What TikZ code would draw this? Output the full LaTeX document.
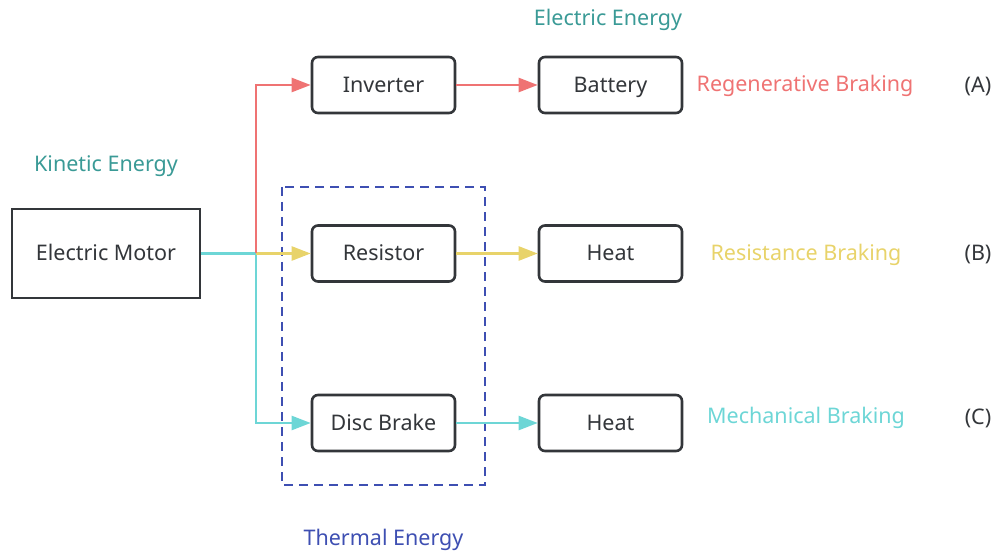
\documentclass[tikz,border=0pt]{standalone}
\usepackage{fontspec}
\setmainfont{Noto Sans}
\usetikzlibrary{arrows.meta,positioning}

\definecolor{regenred}{HTML}{EF7373}
\definecolor{resyellow}{HTML}{E8D36A}
\definecolor{mechcyan}{HTML}{6DD6D6}
\definecolor{energyteal}{HTML}{3A9A96}
\definecolor{thermblue}{HTML}{3E4FB2}
\definecolor{boxline}{HTML}{33363A}

\begin{document}
\begin{tikzpicture}[
  x=1pt, y=-1pt,
  font=\fontsize{21.5}{26}\selectfont,
  box/.style={draw=boxline, line width=2.6pt, rounded corners=6pt, align=center, minimum width=143pt, minimum height=56pt, text height=16pt, text depth=1pt, fill=white, text=boxline},
  bigbox/.style={draw=boxline, line width=2.6pt, align=center, minimum width=188pt, minimum height=89pt, text height=16pt, text depth=1pt, fill=white, text=boxline},
  energy/.style={align=center, text=energyteal},
  tag/.style={align=center, text=boxline},
  arrow/.style={-{Triangle[length=19pt,width=14pt]}, line width=2.4pt}
]
\useasboundingbox (0,0) rectangle (996,553);

% thermal group
\draw[thermblue, line width=2.8pt, dash pattern=on 9pt off 6pt] (282,187) rectangle (485,485);

\node[bigbox] (motor) at (106,253.5) {Electric Motor};

\node[box] (inverter) at (383.5,85) {Inverter};
\node[box] (battery) at (610.5,85) {Battery};
\node[box] (resistor) at (383.5,253.5) {Resistor};
\node[box] (heatB) at (610.5,253.5) {Heat};
\node[box] (disc) at (383.5,423) {Disc Brake};
\node[box] (heatC) at (610.5,423) {Heat};

\node[energy] (kinetic) at (106,166) {Kinetic Energy};
\node[energy] (electric) at (608,20) {Electric Energy};
\node[align=center, text=thermblue] (thermal) at (383.5,540) {Thermal Energy};

\node[text=regenred] (regen) at (805,86) {Regenerative Braking};
\node[text=resyellow] (resist) at (806,255) {Resistance Braking};
\node[text=mechcyan] (mech) at (806,418) {Mechanical Braking};

\node[tag] (tagA) at (978,86) {(A)};
\node[tag] (tagB) at (978,255) {(B)};
\node[tag] (tagC) at (978,418) {(C)};

\coordinate (split) at (256,253.5);

\draw[arrow, mechcyan] (motor.east) -- (split) |- (disc.west);
\draw[arrow, resyellow] (split) -- (resistor.west);
\draw[arrow, regenred] (split) |- (inverter.west);

\draw[arrow, regenred] (inverter.east) -- (battery.west);
\draw[arrow, resyellow] (resistor.east) -- (heatB.west);
\draw[arrow, mechcyan] (disc.east) -- (heatC.west);

\end{tikzpicture}
\end{document}
